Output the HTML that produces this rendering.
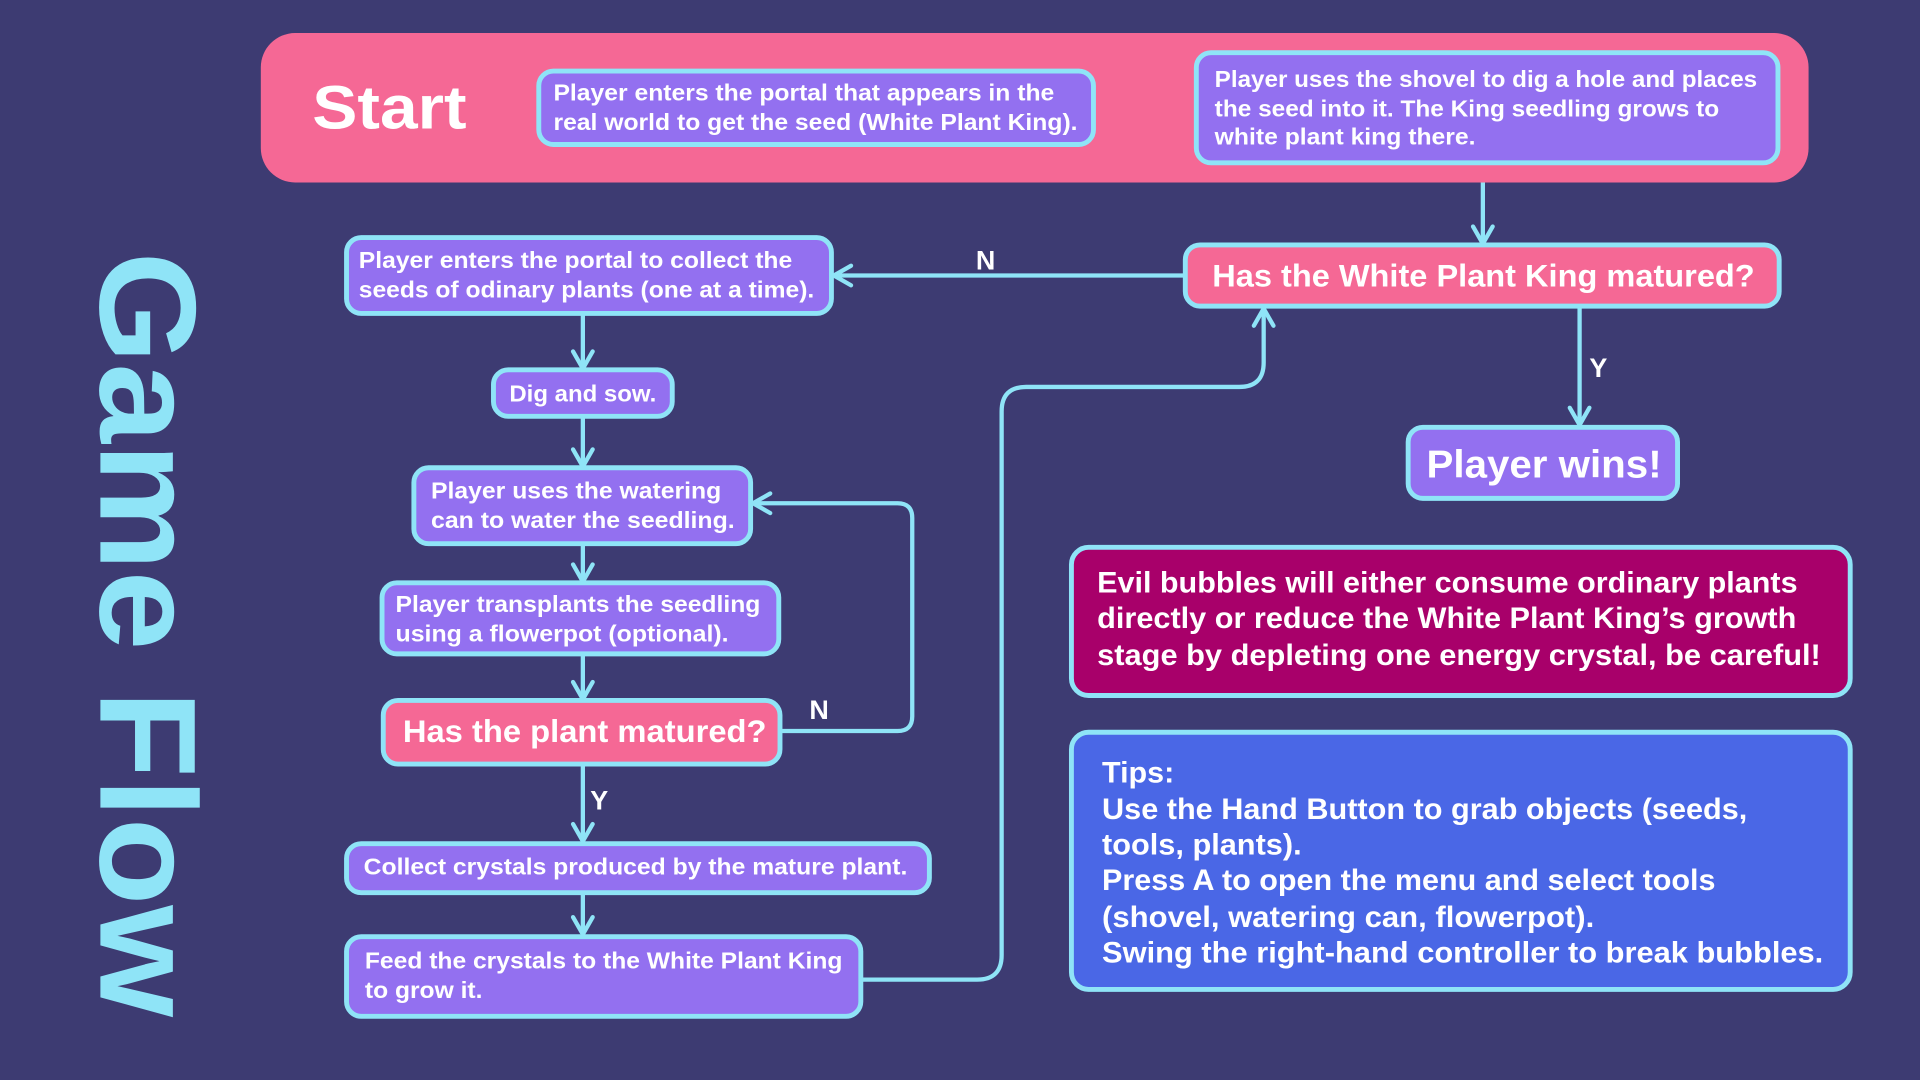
<!DOCTYPE html>
<html><head><meta charset="utf-8"><style>
html,body{margin:0;padding:0;background:#3d3b72;}
svg{display:block}
text{font-family:"Liberation Sans",sans-serif;font-weight:bold;fill:#fff}
</style></head><body>
<svg width="1920" height="1080" viewBox="0 0 1568 882" xmlns="http://www.w3.org/2000/svg">
<rect width="1568" height="882" fill="#3d3b72"/>
<defs>
<marker id="ar" viewBox="0 0 20 20" refX="18" refY="10" markerWidth="20" markerHeight="20" markerUnits="userSpaceOnUse" orient="auto">
<path d="M4 2 L18 10 L4 18" fill="none" stroke="#8fe4f7" stroke-width="3.5" stroke-linecap="round" stroke-linejoin="round"/>
</marker>
</defs>
<g fill="none" stroke="#8fe4f7" stroke-width="3.5" marker-end="url(#ar)">
<path d="M893 88 H976"/>
<path d="M1211 133 V199"/>
<path d="M968 225 H681"/>
<path d="M1290 250 V347"/>
<path d="M476 256 V301"/>
<path d="M476 340 V381"/>
<path d="M476 444 V475"/>
<path d="M476 534 V571"/>
<path d="M637 597 H733 Q745 597 745 585 V423 Q745 411 733 411 H615"/>
<path d="M476 624 V687"/>
<path d="M476 729 V763"/>
<path d="M703 800 H798 Q818 800 818 780 V336 Q818 316 838 316 H1012 Q1032 316 1032 296 V252"/>
</g>
<rect x="213" y="27" width="1264" height="122" rx="28" fill="#f56895"/>
<text x="255" y="105" font-size="50" textLength="126" lengthAdjust="spacingAndGlyphs">Start</text>
<g stroke="#8fe4f7" stroke-width="4">
<rect x="440" y="58" width="453" height="60" rx="12" fill="#9370f0"/>
<rect x="977" y="43" width="475" height="90" rx="12" fill="#9370f0"/>
<rect x="968" y="200" width="485" height="50" rx="12" fill="#f56895"/>
<rect x="1150" y="349" width="220" height="58" rx="12" fill="#9370f0"/>
<rect x="283" y="194" width="396" height="62" rx="12" fill="#9370f0"/>
<rect x="403" y="302" width="146" height="38" rx="12" fill="#9370f0"/>
<rect x="338" y="382" width="275" height="62" rx="12" fill="#9370f0"/>
<rect x="312" y="476" width="324" height="58" rx="12" fill="#9370f0"/>
<rect x="313" y="572" width="324" height="52" rx="12" fill="#f56895"/>
<rect x="283" y="689" width="476" height="40" rx="12" fill="#9370f0"/>
<rect x="283" y="765" width="420" height="65" rx="12" fill="#9370f0"/>
<rect x="875" y="447" width="636" height="121" rx="14" fill="#a8006a"/>
<rect x="875" y="598" width="636" height="210" rx="14" fill="#4a67e6"/>
</g>
<g font-size="18.5" lengthAdjust="spacingAndGlyphs">
<text x="452" y="82" textLength="409" lengthAdjust="spacingAndGlyphs">Player enters the portal that appears in the</text>
<text x="452" y="106" textLength="428" lengthAdjust="spacingAndGlyphs">real world to get the seed (White Plant King).</text>
<text x="992" y="71" textLength="443" lengthAdjust="spacingAndGlyphs">Player uses the shovel to dig a hole and places</text>
<text x="992" y="95" textLength="412" lengthAdjust="spacingAndGlyphs">the seed into it. The King seedling grows to</text>
<text x="992" y="118" textLength="213" lengthAdjust="spacingAndGlyphs">white plant king there.</text>
<text x="293" y="219" textLength="354" lengthAdjust="spacingAndGlyphs">Player enters the portal to collect the</text>
<text x="293" y="243" textLength="372" lengthAdjust="spacingAndGlyphs">seeds of odinary plants (one at a time).</text>
<text x="416" y="328" textLength="120" lengthAdjust="spacingAndGlyphs">Dig and sow.</text>
<text x="352" y="407" textLength="237" lengthAdjust="spacingAndGlyphs">Player uses the watering</text>
<text x="352" y="431" textLength="248" lengthAdjust="spacingAndGlyphs">can to water the seedling.</text>
<text x="323" y="500" textLength="298" lengthAdjust="spacingAndGlyphs">Player transplants the seedling</text>
<text x="323" y="524" textLength="272" lengthAdjust="spacingAndGlyphs">using a flowerpot (optional).</text>
<text x="297" y="714" textLength="444" lengthAdjust="spacingAndGlyphs">Collect crystals produced by the mature plant.</text>
<text x="298" y="791" textLength="390" lengthAdjust="spacingAndGlyphs">Feed the crystals to the White Plant King</text>
<text x="298" y="815" textLength="96" lengthAdjust="spacingAndGlyphs">to grow it.</text>
</g>
<text x="990" y="234" font-size="26" textLength="443" lengthAdjust="spacingAndGlyphs">Has the White Plant King matured?</text>
<text x="1165" y="390" font-size="32" textLength="192" lengthAdjust="spacingAndGlyphs">Player wins!</text>
<text x="329" y="606" font-size="26" textLength="297" lengthAdjust="spacingAndGlyphs">Has the plant matured?</text>
<g font-size="22">
<text x="797" y="220">N</text>
<text x="1298" y="308">Y</text>
<text x="661" y="587">N</text>
<text x="482" y="661">Y</text>
</g>
<g font-size="24">
<text x="896" y="484" textLength="572" lengthAdjust="spacingAndGlyphs">Evil bubbles will either consume ordinary plants</text>
<text x="896" y="513" textLength="571" lengthAdjust="spacingAndGlyphs">directly or reduce the White Plant King’s growth</text>
<text x="896" y="543" textLength="591" lengthAdjust="spacingAndGlyphs">stage by depleting one energy crystal, be careful!</text>
<text x="900" y="639" textLength="59" lengthAdjust="spacingAndGlyphs">Tips:</text>
<text x="900" y="669" textLength="527" lengthAdjust="spacingAndGlyphs">Use the Hand Button to grab objects (seeds,</text>
<text x="900" y="698" textLength="163" lengthAdjust="spacingAndGlyphs">tools, plants).</text>
<text x="900" y="727" textLength="501" lengthAdjust="spacingAndGlyphs">Press A to open the menu and select tools</text>
<text x="900" y="757" textLength="402" lengthAdjust="spacingAndGlyphs">(shovel, watering can, flowerpot).</text>
<text x="900" y="786" textLength="589" lengthAdjust="spacingAndGlyphs">Swing the right-hand controller to break bubbles.</text>
</g>
<text transform="translate(122 518) rotate(90)" x="0" y="40" font-size="112" text-anchor="middle" style="fill:#8fe4f7" textLength="625" lengthAdjust="spacingAndGlyphs">Game Flow</text>
</svg>
</body></html>
